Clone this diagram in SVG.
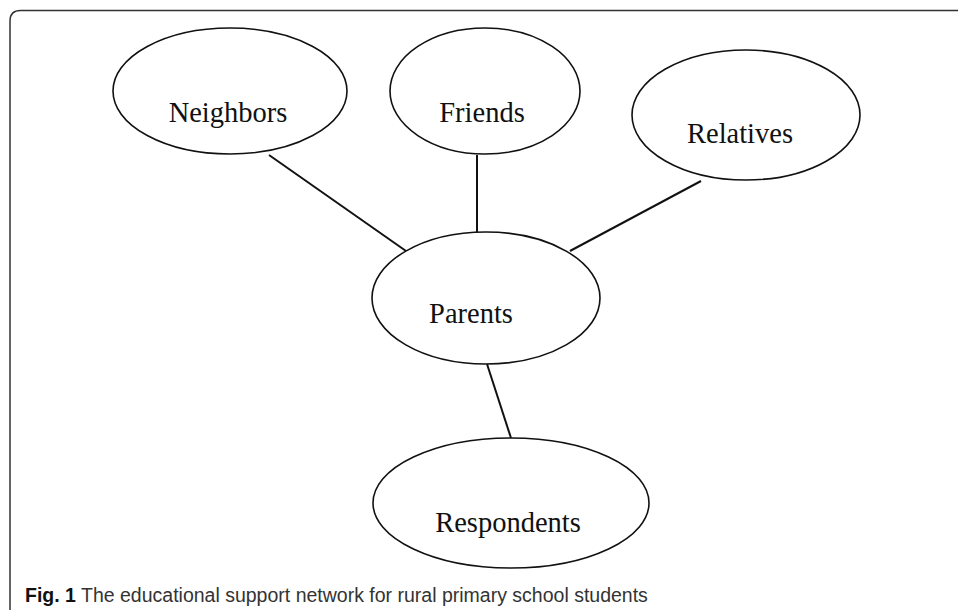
<svg xmlns="http://www.w3.org/2000/svg" width="958" height="612" viewBox="0 0 958 612">
<style>
.node ellipse{fill:#fff;stroke:#111;stroke-width:1.6}
.node text{font-family:"Liberation Serif","Times New Roman",serif;font-size:28.5px;fill:#111;text-anchor:middle}
.edges line{stroke:#111;stroke-width:2}
.cap{font-family:"Liberation Sans",Arial,sans-serif;font-size:19.5px;fill:#333}
</style>
<rect width="958" height="612" fill="#fff"/>
<path d="M10,610 V21 Q10,10.5 20.5,10.5 H958" fill="none" stroke="#333" stroke-width="1.5"/>
<g class="edges">
<line x1="269" y1="155" x2="406" y2="251"/>
<line x1="477" y1="155" x2="477" y2="232"/>
<line x1="701" y1="181" x2="570" y2="251"/>
<line x1="487" y1="364" x2="511" y2="438"/>
</g>
<g id="neighbors" class="node"><ellipse cx="230" cy="91" rx="117" ry="63"/><text x="228" y="122">Neighbors</text></g>
<g id="friends" class="node"><ellipse cx="485" cy="91" rx="95" ry="63"/><text x="482" y="122">Friends</text></g>
<g id="relatives" class="node"><ellipse cx="746" cy="115" rx="114" ry="65"/><text x="740" y="143">Relatives</text></g>
<g id="parents" class="node"><ellipse cx="486" cy="298" rx="114" ry="66"/><text x="471" y="323">Parents</text></g>
<g id="respondents" class="node"><ellipse cx="511" cy="503" rx="138" ry="65"/><text x="508" y="532">Respondents</text></g>
<text class="cap" x="25" y="602"><tspan font-weight="bold" fill="#111">Fig. 1</tspan> The educational support network for rural primary school students</text>
</svg>
